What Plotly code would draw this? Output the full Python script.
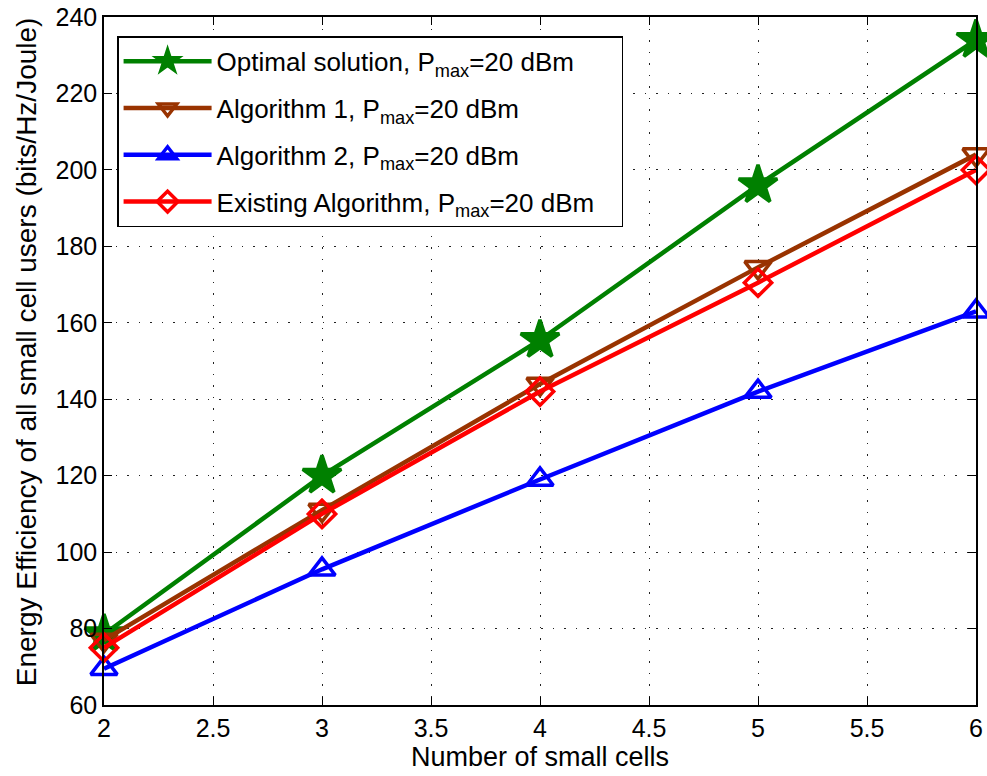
import plotly.graph_objects as go

x_cells = [2, 3, 4, 5, 6]
optimal = [78.5, 120, 155.5, 196, 234]
alg1 = [77, 111, 144, 174.5, 204]
alg2 = [69.5, 95.5, 119, 142, 163]
existing = [75, 110, 142, 170.5, 200]

names = ["Optimal solution, P<sub>max</sub>=20 dBm",
         "Algorithm 1, P<sub>max</sub>=20 dBm",
         "Algorithm 2, P<sub>max</sub>=20 dBm",
         "Existing Algorithm, P<sub>max</sub>=20 dBm"]
colors = ["#008000", "#993300", "#0000FF", "#FF0000"]
symbols = ["star", "triangle-down-open", "triangle-up-open", "diamond-open"]
sizes = [29, 23, 23, 21]
series = [optimal, alg1, alg2, existing]

fig = go.Figure()
for i, (nm, c, s, sz, ys) in enumerate(zip(names, colors, symbols, sizes, series)):
    fig.add_trace(go.Scatter(
        x=x_cells, y=ys, name=nm + "\u00a0\u00a0\u00a0", mode="lines+markers",
        legendgroup=f"g{i}",
        line=dict(color=c, width=4.5),
        marker=dict(symbol=s, size=sz, color=c, line=dict(color=c, width=3.5)),
        cliponaxis=False,
    ))

axis_common = dict(
    showline=True, linecolor="black", linewidth=1.5, mirror="ticks",
    ticks="inside", ticklen=8, tickcolor="black",
    showgrid=True, gridcolor="#222222", griddash="1.5px,10px", gridwidth=1.2,
    zeroline=False, tickfont=dict(size=25, color="black"),
    automargin=False, ticklabeloverflow="allow",
)

fig.update_layout(
    width=987, height=776,
    margin=dict(l=104, r=11, t=17, b=71),
    paper_bgcolor="white", plot_bgcolor="white",
    font=dict(family="Liberation Sans, Arial, sans-serif", color="black", size=25),
    xaxis=dict(range=[2, 6], dtick=0.5,
               title=dict(text="Number of small cells", font=dict(size=27), standoff=5),
               **axis_common),
    yaxis=dict(range=[60, 240], dtick=20, **axis_common),
    legend=dict(x=0.015, y=0.972, xanchor="left", yanchor="top",
                bgcolor="white", bordercolor="black", borderwidth=1.5,
                font=dict(size=26, color="black"),
                itemwidth=88, tracegroupgap=10),
    showlegend=True,
    annotations=[dict(
        text="Energy Efficiency of all small cell users (bits/Hz/Joule)",
        xref="paper", yref="paper", x=-0.0885, y=0.514,
        xanchor="center", yanchor="middle", textangle=-90, showarrow=False,
        font=dict(size=28, color="black"),
    )],
)

# remove the default 8px page margin so the 987x776 figure fills the window exactly
fig.write_html("out.html", config={"displayModeBar": False},
               post_script="document.body.style.margin='0px';")
